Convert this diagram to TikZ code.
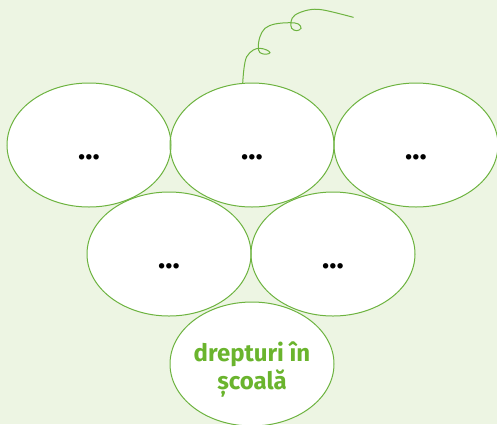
\documentclass[tikz,border=0pt]{standalone}
\usepackage{fontspec}
\setmainfont{Fira Sans}
\usetikzlibrary{shapes.geometric,positioning}
\definecolor{leafgreen}{HTML}{6DB33F}
\definecolor{bggreen}{HTML}{EDF5E3}
\definecolor{textgreen}{HTML}{6AB42D}
\tikzset{grape/.style={ellipse, fill=white, minimum width=164pt, minimum height=124pt, inner sep=0pt,
    font=\bfseries\fontsize{24}{28}\selectfont, align=center},
  grapedots/.style={grape, font=\bfseries\fontsize{30}{36}\selectfont, text height=28pt, text depth=0pt},
  grapeline/.style={draw=leafgreen, line width=1pt}}

\begin{document}
\begin{tikzpicture}[x=1pt,y=-1pt]
                \fill[bggreen] (0,0) rectangle (497,424);
                \useasboundingbox (0,0) rectangle (497,424);

                % the grapes, filled first
                \foreach \n/\x/\y in {g1/89/145, g2/252/145, g3/416/145, g4/169/254, g5/333/254}
                {
                \node[grapedots] (\n) at (\x,\y) {...};
                }
                \node[grape, text=textgreen, text height=51pt, text depth=0pt] (g6) at (252,364) {drepturi în\\școală};

                % then the outlines
                \foreach \n in {g1,g2,g3,g4,g5,g6}
                {
                \draw[grapeline] (\n.center) ellipse (82pt and 62pt);
                }

                % the vine
                \draw[grapeline, line cap=round] plot[smooth, tension=0.6] coordinates {
                  (242.7,83) (244,68.3) (246.7,56.7) (253.3,50) (260,48.3) (266.7,50)
                  (270,52.7) (266,54.2) (260,52.7) (258.3,46.7) (260,36.7) (265,28.3)
                  (275,24) (290,22.7) (298.3,24) (301,28.3) (296.7,30.7) (291.7,28.3)
                  (291,21.7) (295,15) (308.3,10) (323.3,10) (353.3,17.3)};
\end{tikzpicture}
\end{document}
